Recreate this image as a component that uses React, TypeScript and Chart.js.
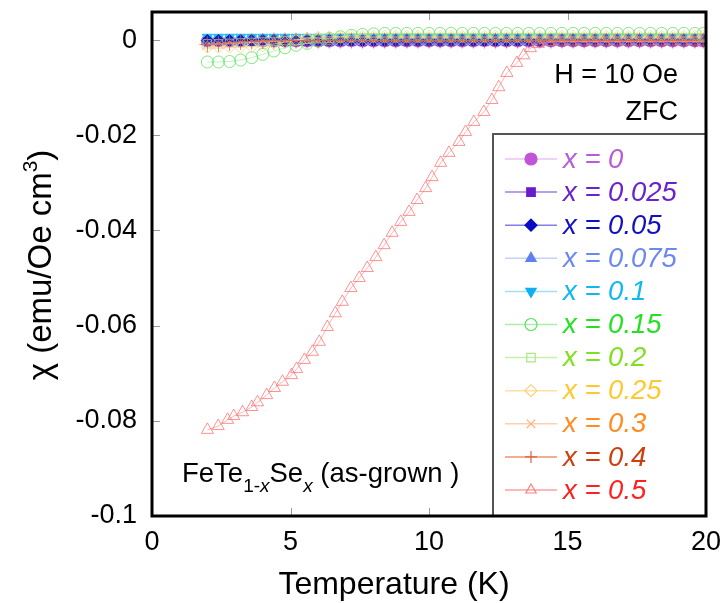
import React, { useEffect, useRef } from 'react';
import { Chart, registerables } from 'chart.js';
import { drawPoint } from 'chart.js/helpers';

Chart.register(...registerables);

const FONT = '"Liberation Sans", Arial, sans-serif';

const X_TICKS = [0, 5, 10, 15, 20];
const Y_TICKS = [0, -0.02, -0.04, -0.06, -0.08, -0.1];

const T_GRID = [
  2.0, 2.4, 2.8, 3.2, 3.6, 4.0, 4.4, 4.8, 5.2, 5.6,
  6.0, 6.4, 6.8, 7.2, 7.6, 8.0, 8.4, 8.8, 9.2, 9.6,
  10.0, 10.4, 10.8, 11.2, 11.6, 12.0, 12.4, 12.8, 13.2, 13.6,
  14.0, 14.4, 14.8, 15.2, 15.6, 16.0, 16.4, 16.8, 17.2, 17.6,
  18.0, 18.4, 18.8, 19.2, 19.6, 19.9,
];

const CHI_X0 = [
  -0.0002, -0.0002, -0.0002, -0.0002, -0.0001, -0.0002, -0.0002, -0.0002, -0.0002, -0.0002,
  -0.0002, -0.0002, -0.0002, -0.0001, -0.0002, -0.0002, -0.0002, -0.0002, -0.0002, -0.0002,
  -0.0002, -0.0002, -0.0002, -0.0002, -0.0002, -0.0001, -0.0002, -0.0002, -0.0002, -0.0002,
  -0.0002, -0.0002, -0.0002, -0.0002, -0.0002, -0.0002, -0.0002, -0.0002, -0.0002, -0.0002,
  -0.0002, -0.0002, -0.0002, -0.0002, -0.0002, -0.0002,
];
const CHI_X0025 = [
  -0.0003, -0.0003, -0.0003, -0.0003, -0.0003, -0.0003, -0.0003, -0.0003, -0.0003, -0.0003,
  -0.0003, -0.0003, -0.0003, -0.0003, -0.0003, -0.0003, -0.0003, -0.0003, -0.0003, -0.0003,
  -0.0003, -0.0003, -0.0003, -0.0003, -0.0003, -0.0003, -0.0003, -0.0003, -0.0003, -0.0003,
  -0.0003, -0.0003, -0.0003, -0.0003, -0.0003, -0.0003, -0.0003, -0.0003, -0.0003, -0.0003,
  -0.0003, -0.0003, -0.0003, -0.0003, -0.0003, -0.0003,
];
const CHI_X005 = [
  -0.0001, -0.0001, -0.0001, -0.0001, -0.0001, -0.0001, -0.0001, -0.0001, -0.0001, -0.0001,
  -0.0001, -0.0001, -0.0001, -0.0001, -0.0001, -0.0001, -0.0001, -0.0001, -0.0001, -0.0001,
  -0.0001, -0.0001, -0.0001, -0.0001, -0.0001, -0.0001, -0.0001, -0.0001, -0.0001, -0.0001,
  -0.0001, -0.0001, -0.0001, -0.0001, -0.0001, -0.0001, -0.0001, -0.0001, -0.0001, -0.0001,
  -0.0001, -0.0001, -0.0001, -0.0001, -0.0001, -0.0001,
];
const CHI_X0075 = [
  -0.0003, -0.0003, -0.0003, -0.0003, -0.0003, -0.0003, -0.0003, -0.0003, -0.0003, -0.0003,
  -0.0003, -0.0003, -0.0003, -0.0003, -0.0003, -0.0003, -0.0003, -0.0003, -0.0003, -0.0003,
  -0.0003, -0.0003, -0.0003, -0.0003, -0.0003, -0.0003, -0.0003, -0.0003, -0.0003, -0.0003,
  -0.0003, -0.0003, -0.0003, -0.0003, -0.0003, -0.0003, -0.0003, -0.0003, -0.0003, -0.0003,
  -0.0003, -0.0003, -0.0003, -0.0003, -0.0003, -0.0003,
];
const CHI_X01 = [
  0.0006, 0.0006, 0.0006, 0.0006, 0.0006, 0.0006, 0.0006, 0.0006, 0.0006, 0.0006,
  0.0006, 0.0006, 0.0006, 0.0006, 0.0006, 0.0006, 0.0006, 0.0006, 0.0006, 0.0006,
  0.0006, 0.0006, 0.0006, 0.0006, 0.0006, 0.0006, 0.0006, 0.0006, 0.0006, 0.0006,
  0.0006, 0.0006, 0.0006, 0.0006, 0.0006, 0.0006, 0.0006, 0.0006, 0.0006, 0.0006,
  0.0006, 0.0006, 0.0006, 0.0006, 0.0006, 0.0006,
];
const CHI_X015 = [
  -0.0046, -0.0046, -0.0045, -0.0042, -0.0037, -0.0030, -0.0023, -0.0016, -0.0011, -0.0007,
  -0.0002, 0.0003, 0.0007, 0.0010, 0.0012, 0.0013, 0.0014, 0.0014, 0.0014, 0.0014,
  0.0014, 0.0014, 0.0014, 0.0014, 0.0014, 0.0014, 0.0014, 0.0014, 0.0014, 0.0014,
  0.0014, 0.0014, 0.0014, 0.0014, 0.0014, 0.0014, 0.0014, 0.0014, 0.0014, 0.0014,
  0.0014, 0.0014, 0.0014, 0.0014, 0.0014, 0.0014,
];
const CHI_X02 = [
  -0.0008, -0.0008, -0.0007, -0.0006, -0.0005, -0.0004, -0.0003, -0.0001, 0.0000, 0.0002,
  0.0003, 0.0004, 0.0005, 0.0005, 0.0005, 0.0005, 0.0005, 0.0005, 0.0005, 0.0005,
  0.0005, 0.0005, 0.0005, 0.0005, 0.0005, 0.0005, 0.0005, 0.0005, 0.0005, 0.0005,
  0.0005, 0.0005, 0.0005, 0.0005, 0.0005, 0.0005, 0.0005, 0.0005, 0.0005, 0.0005,
  0.0005, 0.0005, 0.0005, 0.0005, 0.0005, 0.0005,
];
const CHI_X025 = [
  -0.0015, -0.0015, -0.0015, -0.0015, -0.0014, -0.0012, -0.0008, -0.0004, 0.0000, 0.0004,
  0.0006, 0.0007, 0.0008, 0.0008, 0.0008, 0.0008, 0.0008, 0.0008, 0.0008, 0.0008,
  0.0008, 0.0008, 0.0008, 0.0008, 0.0008, 0.0008, 0.0008, 0.0008, 0.0008, 0.0008,
  0.0008, 0.0008, 0.0008, 0.0008, 0.0008, 0.0008, 0.0008, 0.0008, 0.0008, 0.0008,
  0.0008, 0.0008, 0.0008, 0.0008, 0.0008, 0.0008,
];
const CHI_X03 = [
  -0.0010, -0.0008, -0.0006, -0.0005, -0.0003, -0.0002, -0.0001, -0.0001, -0.0001, -0.0001,
  -0.0001, -0.0001, -0.0001, -0.0001, -0.0001, -0.0001, -0.0001, -0.0001, -0.0001, -0.0001,
  -0.0001, -0.0001, -0.0001, -0.0001, -0.0001, -0.0001, -0.0001, -0.0001, -0.0001, -0.0001,
  -0.0001, -0.0001, -0.0001, -0.0001, -0.0001, -0.0001, -0.0001, -0.0001, -0.0001, -0.0001,
  -0.0001, -0.0001, -0.0001, -0.0001, -0.0001, -0.0001,
];
const CHI_X04 = [
  -0.0009, -0.0008, -0.0006, -0.0004, -0.0003, -0.0002, -0.0001, -0.0001, -0.0001, -0.0001,
  -0.0001, -0.0001, -0.0001, -0.0001, -0.0001, -0.0001, -0.0001, -0.0001, -0.0001, -0.0001,
  -0.0001, -0.0001, -0.0001, -0.0001, -0.0001, -0.0001, -0.0001, -0.0001, -0.0001, -0.0001,
  -0.0001, -0.0001, -0.0001, -0.0001, -0.0001, -0.0001, -0.0001, -0.0001, -0.0001, -0.0001,
  -0.0001, -0.0001, -0.0001, -0.0001, -0.0001, -0.0001,
];

const T_X05 = [
  2.0, 2.39, 2.73, 2.95, 3.27, 3.6, 3.81, 4.14, 4.42, 4.71,
  5.04, 5.22, 5.5, 5.79, 6.04, 6.33, 6.62, 6.87, 7.18, 7.48,
  7.77, 8.08, 8.38, 8.67, 8.98, 9.28, 9.57, 9.88, 10.11, 10.42,
  10.72, 11.08, 11.32, 11.62, 11.98, 12.27, 12.52, 12.81, 13.17, 13.42,
  13.66, 13.95, 14.3, 14.7, 15.1, 15.5, 15.9, 16.3, 16.7, 17.1,
  17.5, 17.9, 18.3, 18.7, 19.1, 19.5, 19.9,
];
const CHI_X05 = [
  -0.0819, -0.0811, -0.0798, -0.0790, -0.0782, -0.0771, -0.0761, -0.0746, -0.0731, -0.0718,
  -0.0704, -0.0691, -0.0672, -0.0655, -0.0634, -0.0603, -0.0574, -0.0550, -0.0521, -0.0500,
  -0.0479, -0.0456, -0.0431, -0.0405, -0.0382, -0.0361, -0.0336, -0.0311, -0.0288, -0.0258,
  -0.0237, -0.0214, -0.0193, -0.0172, -0.0151, -0.0126, -0.0099, -0.0069, -0.0048, -0.0032,
  -0.0017, -0.0008, -0.0004, -0.0003, -0.0003, -0.0003, -0.0003, -0.0003, -0.0003, -0.0003,
  -0.0003, -0.0003, -0.0003, -0.0003, -0.0003, -0.0003, -0.0003,
];

type Series = {
  label: string; t: number[]; chi: number[]; style: string; rot: number; filled: boolean;
  marker: string; line: string; text: string; radius: number; z: number;
  legendMarker: string; legendLine: string;
};

const SERIES: Series[] = [
  { label: 'x = 0', t: T_GRID, chi: CHI_X0, style: 'circle', rot: 0, filled: true, z: 11, marker: 'rgba(195,80,220,0.75)', line: 'rgba(215,160,235,0.7)', text: '#b95ad8', radius: 6, legendMarker: '#c055d8', legendLine: '#e8c4f0' },
  { label: 'x = 0.025', t: T_GRID, chi: CHI_X0025, style: 'rect', rot: 0, filled: true, z: 10, marker: 'rgba(105,30,205,0.75)', line: 'rgba(160,120,225,0.7)', text: '#6a22cc', radius: 6, legendMarker: '#6a1ccc', legendLine: '#a080e0' },
  { label: 'x = 0.05', t: T_GRID, chi: CHI_X005, style: 'rectRot', rot: 0, filled: true, z: 7, marker: 'rgba(10,10,190,0.85)', line: 'rgba(120,120,230,0.7)', text: '#1010c0', radius: 6, legendMarker: '#0a0ac0', legendLine: '#8080e8' },
  { label: 'x = 0.075', t: T_GRID, chi: CHI_X0075, style: 'triangle', rot: 0, filled: true, z: 9, marker: 'rgba(95,130,240,0.7)', line: 'rgba(190,205,248,0.7)', text: '#6a88f0', radius: 7, legendMarker: '#6080f0', legendLine: '#c4d2f8' },
  { label: 'x = 0.1', t: T_GRID, chi: CHI_X01, style: 'triangle', rot: 180, filled: true, z: 8, marker: 'rgba(15,185,240,0.85)', line: 'rgba(150,220,248,0.7)', text: '#10b8f0', radius: 6, legendMarker: '#10b0f0', legendLine: '#a0e0f8' },
  { label: 'x = 0.15', t: T_GRID, chi: CHI_X015, style: 'circle', rot: 0, filled: false, z: 6, marker: 'rgba(90,225,90,0.75)', line: 'rgba(160,240,160,0.7)', text: '#22e022', radius: 6, legendMarker: '#60e060', legendLine: '#a8f0a8' },
  { label: 'x = 0.2', t: T_GRID, chi: CHI_X02, style: 'rect', rot: 0, filled: false, z: 5, marker: 'rgba(165,235,120,0.75)', line: 'rgba(200,240,170,0.7)', text: '#80e020', radius: 6, legendMarker: '#a8e888', legendLine: '#c8f0a8' },
  { label: 'x = 0.25', t: T_GRID, chi: CHI_X025, style: 'rectRot', rot: 0, filled: false, z: 4, marker: 'rgba(255,205,120,0.75)', line: 'rgba(255,225,160,0.7)', text: '#ffc830', radius: 6, legendMarker: '#ffd080', legendLine: '#ffe0a0' },
  { label: 'x = 0.3', t: T_GRID, chi: CHI_X03, style: 'crossRot', rot: 0, filled: false, z: 3, marker: 'rgba(255,175,130,0.75)', line: 'rgba(255,210,180,0.7)', text: '#ff8c20', radius: 7, legendMarker: '#ffb080', legendLine: '#ffd0b0' },
  { label: 'x = 0.4', t: T_GRID, chi: CHI_X04, style: 'cross', rot: 0, filled: false, z: 2, marker: 'rgba(225,90,60,0.75)', line: 'rgba(240,150,120,0.7)', text: '#cc4010', radius: 8, legendMarker: '#e06040', legendLine: '#f09070' },
  { label: 'x = 0.5', t: T_X05, chi: CHI_X05, style: 'triangle', rot: 0, filled: false, z: 1, marker: 'rgba(255,110,110,0.75)', line: 'rgba(255,150,150,0.7)', text: '#ff2020', radius: 7, legendMarker: '#ff8080', legendLine: '#ffa0a0' },
];

const decorPlugin = {
  id: 'decor',
  afterDatasetsDraw(chart: any) {
    const { ctx, chartArea: a, scales } = chart;
    const xs = scales.x;
    const ys = scales.y;
    ctx.save();

    // inner ticks
    ctx.strokeStyle = '#9a9a9a';
    ctx.lineWidth = 1;
    X_TICKS.forEach((v) => {
      const px = Math.round(xs.getPixelForValue(v)) + 0.5;
      if (px <= a.left + 2 || px >= a.right - 2) return;
      ctx.beginPath();
      ctx.moveTo(px, a.bottom); ctx.lineTo(px, a.bottom - 8);
      ctx.moveTo(px, a.top); ctx.lineTo(px, a.top + 8);
      ctx.stroke();
    });
    Y_TICKS.forEach((v) => {
      const py = Math.round(ys.getPixelForValue(v)) + 0.5;
      if (py <= a.top + 2 || py >= a.bottom - 2) return;
      ctx.beginPath();
      ctx.moveTo(a.left, py); ctx.lineTo(a.left + 8, py);
      ctx.moveTo(a.right, py); ctx.lineTo(a.right - 8, py);
      ctx.stroke();
    });

    // legend box
    const lx = 492, ly = 133;
    ctx.fillStyle = '#ffffff';
    ctx.fillRect(lx, ly, a.right - lx, a.bottom - ly);
    ctx.strokeStyle = '#555555';
    ctx.lineWidth = 2;
    ctx.strokeRect(lx + 1, ly + 1, a.right - lx - 1, a.bottom - ly - 1);
    SERIES.forEach((s, i) => {
      const y = ly + 26 + i * 33.1;
      ctx.strokeStyle = s.legendLine;
      ctx.lineWidth = 1.5;
      ctx.beginPath();
      ctx.moveTo(505, y); ctx.lineTo(557, y);
      ctx.stroke();
      ctx.fillStyle = s.filled ? s.legendMarker : 'rgba(0,0,0,0)';
      ctx.strokeStyle = s.legendMarker;
      ctx.lineWidth = 1.2;
      drawPoint(ctx, { pointStyle: s.style, rotation: s.rot, radius: Math.min(s.radius, 6), borderWidth: 1.2 }, 531, y);
      ctx.fillStyle = s.text;
      ctx.font = `italic 27.5px ${FONT}`;
      ctx.textAlign = 'left';
      ctx.textBaseline = 'middle';
      ctx.fillText(s.label, 563, y + 1);
    });

    // annotations
    ctx.fillStyle = '#000';
    ctx.textBaseline = 'alphabetic';
    ctx.textAlign = 'right';
    ctx.font = `27px ${FONT}`;
    ctx.fillText('H = 10 Oe', 678, 83);
    ctx.fillText('ZFC', 678, 120);

    // FeTe1-xSex (as-grown )
    ctx.textAlign = 'left';
    let x = 182;
    const base = 482;
    const big = `27.5px ${FONT}`;
    const small = `19px ${FONT}`;
    const smallIt = `italic 19px ${FONT}`;
    const put = (txt: string, font: string, dy: number) => {
      ctx.font = font;
      ctx.fillText(txt, x, base + dy);
      x += ctx.measureText(txt).width;
    };
    put('FeTe', big, 0);
    put('1-', small, 10);
    put('x', smallIt, 10);
    put('Se', big, 0);
    put('x', smallIt, 10);
    put(' (as-grown )', big, 0);

    // frame
    ctx.strokeStyle = '#000';
    ctx.lineWidth = 3;
    ctx.strokeRect(a.left, a.top, a.right - a.left, a.bottom - a.top);

    // axis titles
    ctx.fillStyle = '#000';
    ctx.font = `32px ${FONT}`;
    ctx.textAlign = 'center';
    ctx.textBaseline = 'alphabetic';
    ctx.fillText('Temperature (K)', 394, 594);

    ctx.save();
    ctx.translate(51, 265);
    ctx.rotate(-Math.PI / 2);
    const parts: [string, string, number][] = [
      ['χ (emu/Oe cm', `33px ${FONT}`, 0],
      ['3', `21px ${FONT}`, -14],
      [')', `33px ${FONT}`, 0],
    ];
    let total = 0;
    parts.forEach(([t, f]) => { ctx.font = f; total += ctx.measureText(t).width; });
    let cx = -total / 2;
    ctx.textAlign = 'left';
    parts.forEach(([t, f, dy]) => {
      ctx.font = f;
      ctx.fillText(t, cx, dy);
      cx += ctx.measureText(t).width;
    });
    ctx.restore();

    ctx.restore();
  },
};

export default function App() {
  const ref = useRef<HTMLCanvasElement | null>(null);
  useEffect(() => {
    if (!ref.current) return;
    const chart = new Chart(ref.current, {
      type: 'scatter',
      data: {
        datasets: SERIES.map((s) => ({
          label: s.label,
          data: s.t.map((t, j) => ({ x: t, y: s.chi[j] })),
          order: s.z,
          showLine: true,
          borderColor: s.line,
          borderWidth: 1,
          pointStyle: s.style as any,
          rotation: s.rot,
          pointRadius: s.radius,
          pointBackgroundColor: s.filled ? s.marker : 'rgba(0,0,0,0)',
          pointBorderColor: s.marker,
          pointBorderWidth: 1,
        })),
      },
      options: {
        animation: false,
        responsive: false,
        layout: { padding: { left: 0, top: 12, right: 18, bottom: 0 } },
        plugins: { legend: { display: false }, tooltip: { enabled: false }, title: { display: false } },
        scales: {
          x: {
            type: 'linear',
            min: 0,
            max: 20,
            grid: { display: false, drawTicks: false },
            border: { display: false },
            afterBuildTicks: (sc: any) => { sc.ticks = X_TICKS.map((v) => ({ value: v })); },
            afterFit: (sc: any) => { sc.height = 87; sc.paddingLeft = 0; sc.paddingRight = 0; },
            ticks: {
              padding: 10,
              maxRotation: 0,
              autoSkip: false,
              color: '#000',
              font: { family: FONT, size: 27 },
              callback: (v: any) => String(v),
            },
          },
          y: {
            type: 'linear',
            min: -0.1,
            max: 0.0059,
            grid: { display: false, drawTicks: false },
            border: { display: false },
            afterBuildTicks: (sc: any) => { sc.ticks = Y_TICKS.map((v) => ({ value: v })); },
            afterFit: (sc: any) => { sc.width = 152; sc.paddingTop = 0; sc.paddingBottom = 0; },
            ticks: {
              padding: 15,
              autoSkip: false,
              color: '#000',
              font: { family: FONT, size: 27 },
              callback: (v: any) => { const n = Number(Number(v).toFixed(3)); return n === 0 ? '0' : String(n); },
            },
          },
        },
      },
      plugins: [decorPlugin],
    });
    return () => chart.destroy();
  }, []);
  return (
    <div style={{ position: 'fixed', left: 0, top: 0, width: 724, height: 603, background: '#fff' }}>
      <canvas ref={ref} width={724} height={603} />
    </div>
  );
}
